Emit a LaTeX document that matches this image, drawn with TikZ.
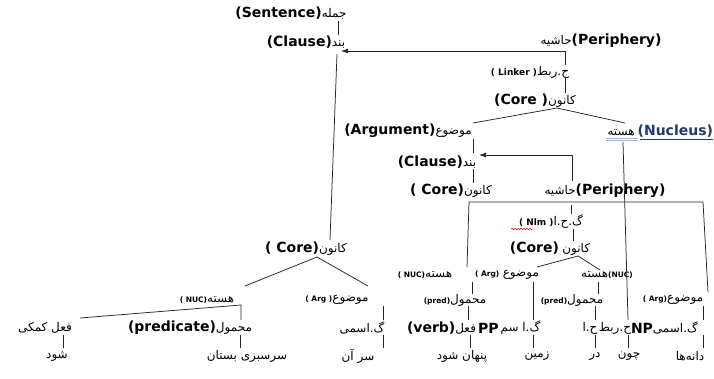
\documentclass[tikz,border=0pt]{standalone}
\usepackage{fontspec}
\usetikzlibrary{arrows.meta,decorations.pathmorphing}
\TeXXeTstate=1
\newfontfamily\arabicfont[Script=Arabic]{DejaVu Sans}
\newfontfamily\latfont{DejaVu Sans}
\newcommand{\prs}[1]{{\arabicfont\fontsize{12}{14}\selectfont\beginR #1\endR}}
\newcommand{\lb}[1]{{\latfont\bfseries\fontsize{14}{16}\selectfont #1}}
\newcommand{\ls}[1]{{\latfont\bfseries\fontsize{7.5}{9}\selectfont #1}}
\newcommand{\lm}[1]{{\latfont\bfseries\fontsize{9}{11}\selectfont #1}}
\definecolor{navy}{HTML}{1F3A6E}
\definecolor{ulblue}{HTML}{9DB9D5}
\begin{document}
\begin{tikzpicture}[x=1pt,y=-1pt,
  lab/.style={inner sep=0pt,outer sep=0pt,anchor=center},
  ln/.style={line width=0.75pt,draw=black!85},
  arr/.style={ln,-{Latex[length=7pt,width=5pt]}}]
\useasboundingbox[fill=white] (0,0) rectangle (714,379);
% ---------- upper part ----------
\node[lab] (sent)  at (291,13)  {\lb{(Sentence)}\prs{جمله}};
\node[lab] (cl1)   at (306,42)  {\lb{(Clause)}\prs{بند}};
\node[lab] (per1)  at (601,41)  {\prs{حاشیه}\lb{(Periphery)}};
\node[lab] (link)  at (530,72)  {\lm{( Linker )}\prs{ح.ربط}};
\node[lab] (core1) at (535,101) {\lb{(Core )}\prs{کانون}};
\node[lab] (arg1)  at (408,131) {\lb{(Argument)}\prs{موضوع}};
\node[lab,anchor=east] (nuc1) at (713,131) {\prs{هسته}\hspace{3pt}\lb{\color{navy}(Nucleus)}};
\node[lab] (cl2)   at (437,162) {\lb{(Clause)}\prs{بند}};
\node[lab] (core2) at (451,191) {\lb{( Core)}\prs{کانون}};
\node[lab] (per2)  at (605,191) {\prs{حاشیه}\lb{(Periphery)}};
\node[lab] (nlm)   at (551,222) {\lm{( Nlm )}\prs{گ.ح.ا}};
\node[lab] (core3) at (550,249) {\lb{(Core)} \prs{کانون}};
\node[lab] (coreL) at (306,249) {\lb{( Core)}\prs{کانون}};
% ---------- row NUC/Arg (right) ----------
\node[lab] (nucA) at (425,275) {\ls{( NUC)}\prs{هسته}};
\node[lab] (argA) at (507,275) {\ls{( Arg)} \prs{موضوع}};
\node[lab] (nucB) at (607,275) {\prs{هسته}\ls{(NUC)}};
% ---------- row A ----------
\node[lab] (nucL)  at (207,300) {\ls{( NUC)}\prs{هسته}};
\node[lab] (argL)  at (337,300) {\ls{( Arg )}\prs{موضوع}};
\node[lab] (pred1) at (455,300) {\ls{(pred)}\prs{محمول}};
\node[lab] (pred2) at (572,300) {\ls{(pred)}\prs{محمول}};
\node[lab] (argR)  at (673,300) {\ls{( Arg)}\prs{موضوع}};
% ---------- row B ----------
\node[lab] (aux)   at (45,328)  {\prs{فعل کمکی}};
\node[lab] (predL) at (190,328) {\lb{(predicate)}\prs{محمول}};
\node[lab] (npL)   at (362,328) {\prs{گ.اسمی}};
\node[lab,anchor=east] (verb) at (476,328) {\lb{(verb)}\prs{فعل}};
\node[lab,anchor=west] (pp)   at ([xshift=2pt]verb.east) {\lb{PP}};
\node[lab,anchor=west] (gas)  at ([xshift=2pt]pp.east) {\prs{گ.ا سم}};
\node[lab] (ha)    at (590,328) {\prs{ح.ا}};
\node[lab,anchor=east] (hrabt) at (631,328) {\prs{ح.ربط}};
\node[lab,anchor=west] (np)    at (hrabt.east) {\lb{NP}};
\node[lab,anchor=west] (gasmi) at (np.east) {\prs{گ.اسمی}};
% ---------- row C ----------
\node[lab] (shod)   at (57,356)  {\prs{شود}};
\node[lab] (bostan) at (247,356) {\prs{سرسبزی بستان}};
\node[lab] (saran)  at (358,356) {\prs{سر آن}};
\node[lab] (penhan) at (462,356) {\prs{پنهان شود}};
\node[lab] (zamin)  at (537,356) {\prs{زمین}};
\node[lab] (dar)    at (595,356) {\prs{در}};
\node[lab] (chon)   at (629,356) {\prs{چون}};
\node[lab] (dane)   at (690,356) {\prs{دانه‌ها}};
% ---------- decorations of labels ----------
\coordinate (u1a) at (606,138.5); \coordinate (u1b) at (638,138.5);
\coordinate (u2a) at (606,141); \coordinate (u2b) at (638,141);
\draw[ulblue,line width=1pt] (u1a) -- (u1b) (u2a) -- (u2b);
\coordinate (u3a) at (640,139); \coordinate (u3b) at (713,139);
\draw[navy,line width=0.6pt] (u3a) -- (u3b);
\coordinate (w1) at (511,229); \coordinate (w2) at (533,229);
\draw[red,line width=0.5pt,decorate,decoration={snake,amplitude=0.7pt,segment length=3pt}] (w1) -- (w2);
% ---------- connectors ----------
\coordinate (k1a) at (338,21);  \coordinate (k1b) at (338,35);
\draw[ln] (k1a) -- (k1b);
\coordinate (k2a) at (337,54);  \coordinate (k2b) at (330,240);
\draw[ln] (k2a) -- (k2b);
\coordinate (k3a) at (565,65);  \coordinate (k3b) at (565,51); \coordinate (k3c) at (341,51);
\draw[arr] (k3a) -- (k3b) -- (k3c);
\coordinate (k4a) at (565,78);  \coordinate (k4b) at (565,93);
\draw[ln] (k4a) -- (k4b);
\coordinate (k5a) at (557,108); \coordinate (k5b) at (473,123); \coordinate (k5c) at (625,123);
\draw[ln] (k5b) -- (k5a) -- (k5c);
\coordinate (k6a) at (473,139); \coordinate (k6b) at (473,153);
\draw[ln] (k6a) -- (k6b);
\coordinate (k7a) at (572,181); \coordinate (k7b) at (572,155); \coordinate (k7c) at (479,155);
\draw[arr] (k7a) -- (k7b) -- (k7c);
\coordinate (k8a) at (623,142); \coordinate (k8b) at (628,320);
\draw[ln] (k8a) -- (k8b);
\coordinate (k9a) at (473,169); \coordinate (k9b) at (473,183);
\draw[ln] (k9a) -- (k9b);
\coordinate (k10a) at (571,205); \coordinate (k10b) at (571,214);
\draw[ln] (k10a) -- (k10b);
\coordinate (k11a) at (467,267); \coordinate (k11b) at (469,202);
\coordinate (k11c) at (703,202); \coordinate (k11d) at (708,292);
\draw[ln] (k11a) -- (k11b) -- (k11c) -- (k11d);
\coordinate (k12a) at (573,229); \coordinate (k12b) at (573,241);
\draw[ln] (k12a) -- (k12b);
\coordinate (k13a) at (578,256); \coordinate (k13b) at (537,267); \coordinate (k13c) at (600,270);
\draw[ln] (k13b) -- (k13a) -- (k13c);
\coordinate (k14a) at (317,257); \coordinate (k14b) at (245,286); \coordinate (k14c) at (368,286);
\draw[ln] (k14b) -- (k14a) -- (k14c);
\coordinate (k15a) at (241,305); \coordinate (k15b) at (80,318); \coordinate (k15c) at (241,320);
\draw[ln] (k15b) -- (k15a) -- (k15c);
\coordinate (k16a) at (63,335);  \coordinate (k16b) at (63,348);
\draw[ln] (k16a) -- (k16b);
\coordinate (k17a) at (240,335); \coordinate (k17b) at (240,348);
\draw[ln] (k17a) -- (k17b);
\coordinate (k18a) at (383,306); \coordinate (k18b) at (383,320);
\coordinate (k18c) at (383,335); \coordinate (k18d) at (383,348);
\draw[ln] (k18a) -- (k18b) (k18c) -- (k18d);
\coordinate (k19a) at (472,282); \coordinate (k19b) at (472,294);
\coordinate (k19c) at (468,306); \coordinate (k19d) at (468,320);
\coordinate (k19e) at (470,335); \coordinate (k19f) at (470,348);
\draw[ln] (k19a) -- (k19b) (k19c) -- (k19d) (k19e) -- (k19f);
\coordinate (k20a) at (533,282); \coordinate (k20b) at (533,320);
\coordinate (k20c) at (533,335); \coordinate (k20d) at (533,348);
\draw[ln] (k20a) -- (k20b) (k20c) -- (k20d);
\coordinate (k21a) at (598,282); \coordinate (k21b) at (598,294);
\coordinate (k21c) at (595,306); \coordinate (k21d) at (595,320);
\coordinate (k21e) at (595,335); \coordinate (k21f) at (595,348);
\draw[ln] (k21a) -- (k21b) (k21c) -- (k21d) (k21e) -- (k21f);
\coordinate (k22a) at (628,335); \coordinate (k22b) at (628,348);
\draw[ln] (k22a) -- (k22b);
\coordinate (k23a) at (703,306); \coordinate (k23b) at (703,320);
\coordinate (k23c) at (703,335); \coordinate (k23d) at (703,348);
\draw[ln] (k23a) -- (k23b) (k23c) -- (k23d);
\end{tikzpicture}
\end{document}
